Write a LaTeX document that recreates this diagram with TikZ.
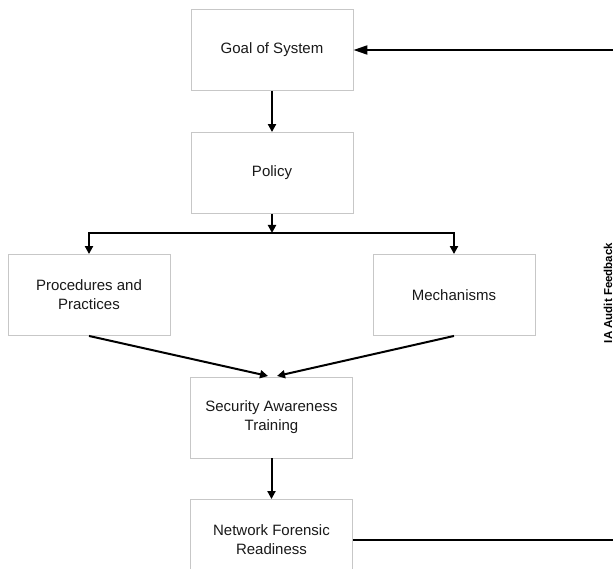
\documentclass[tikz,border=0pt]{standalone}
\usepackage{fontspec}
\setmainfont{Liberation Sans}
\usetikzlibrary{arrows.meta,calc}
\begin{document}
\begin{tikzpicture}[x=1pt,y=1pt,
  box/.style={draw=black!22,line width=0.9pt,minimum width=162pt,minimum height=81pt,
    align=center,inner sep=0pt,font=\fontsize{15}{19}\selectfont,text=black!90},
  arr/.style={line width=2pt,-{Triangle[length=8pt,width=8pt]}},
  bigarr/.style={line width=2pt,-{Triangle[length=14pt,width=9pt]}},
  ln/.style={line width=2pt}]
\clip (0,0) rectangle (613,-569);
\fill[white] (0,0) rectangle (613,-569);
\node[box] (goal) at (272,-50) {Goal of System};
\node[box] (policy) at (272,-173) {Policy};
\node[box] (proc) at (89,-295) {Procedures and\\Practices};
\node[box] (mech) at (454,-295) {Mechanisms};
\node[box] (sat) at (271.5,-417.5) {Security Awareness\\Training};
\node[box] (nfr) at (271.5,-540) {Network Forensic\\Readiness};
\coordinate (split) at (272,-233);
\coordinate (t1) at (268,-376);
\coordinate (t2) at (277,-376);
\coordinate (fb1) at (630,-540);
\coordinate (fb2) at (630,-50);
\draw[arr] (goal) -- (policy);
\draw[arr] (policy) -- (split);
\draw[arr] (split) -| (proc);
\draw[arr] (split) -| (mech);
\draw[arr] (proc.south) -- (t1);
\draw[arr] (mech.south) -- (t2);
\draw[arr] (sat) -- (nfr);
\draw[ln] (nfr.east) -- (fb1);
\draw[bigarr] (fb2) -- (goal.east);
\node[rotate=90,font=\fontsize{11.5}{13}\selectfont\bfseries] (lbl) at (608,-293) {IA Audit Feedback};
\end{tikzpicture}
\end{document}
